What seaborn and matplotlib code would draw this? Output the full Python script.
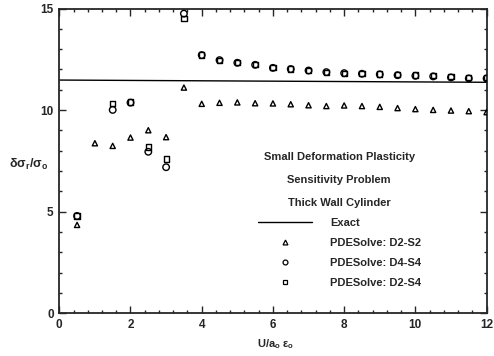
import numpy as np
import pandas as pd
import matplotlib
matplotlib.use("Agg")
import matplotlib.pyplot as plt
import seaborn as sns
from matplotlib.lines import Line2D

# ---- data ----
x_vals = [0.5, 1.0, 1.5, 2.0, 2.5, 3.0, 3.5, 4.0, 4.5, 5.0, 5.5, 6.0, 6.5, 7.0, 7.5,
          8.0, 8.5, 9.0, 9.5, 10.0, 10.5, 11.0, 11.5, 12.0]
d2s2 = [4.35, 8.37, 8.24, 8.65, 9.01, 8.67, 11.11, 10.31, 10.36, 10.38, 10.34, 10.33,
        10.29, 10.24, 10.20, 10.23, 10.20, 10.16, 10.10, 10.05, 10.01, 9.98, 9.95, 9.90]
d4s4 = [4.79, np.nan, 10.01, 10.37, 7.95, 7.19, 14.75, 12.71, 12.46, 12.33, 12.23, 12.08,
        12.02, 11.95, 11.87, 11.82, 11.79, 11.76, 11.72, 11.69, 11.66, 11.61, 11.56, 11.56]
d2s4 = [4.79, np.nan, 10.34, 10.40, 8.18, 7.59, 14.50, 12.71, 12.46, 12.33, 12.23, 12.08,
        12.02, 11.95, 11.87, 11.82, 11.80, 11.78, 11.76, 11.73, 11.70, 11.66, 11.62, 11.62]
exact_x = [0.0, 12.0]
exact_y = [11.48, 11.37]

x_label = r"U/a$_\mathbf{o}$ $\mathbf{\varepsilon}_\mathbf{o}$"
y_label = r"$\mathbf{\delta\sigma_r/\sigma_o}$"
legend_title = "Small Deformation Plasticity\nSensitivity Problem\nThick Wall Cylinder"
series_names = ["PDESolve: D2-S2", "PDESolve: D4-S4", "PDESolve: D2-S4"]

sns.set_style("ticks")
plt.rcParams['font.family'] = ['Liberation Sans', 'DejaVu Sans']
plt.rcParams['mathtext.fontset'] = 'custom'
plt.rcParams['mathtext.rm'] = 'Liberation Sans'
plt.rcParams['mathtext.it'] = 'Liberation Sans:italic'
plt.rcParams['mathtext.bf'] = 'Liberation Sans:bold'

fig = plt.figure(figsize=(4.94, 3.56), dpi=100)
ax = fig.add_axes([0.120, 0.120, 0.865, 0.856])

exact_df = pd.DataFrame({"x": exact_x, "y": exact_y})
sns.lineplot(data=exact_df, x="x", y="y", ax=ax, color="black", lw=1.0)

markers = ["^", "o", "s"]
for vals, m, s in zip([d2s2, d2s4, d4s4], ["^", "s", "o"], [14, 14, 22]):
    df = pd.DataFrame({"x": x_vals, "y": vals}).dropna()
    sns.scatterplot(data=df, x="x", y="y", ax=ax, marker=m, s=s,
                    facecolor="none", edgecolor="black", linewidth=1.0, zorder=3)

ax.set_xlim(0, 12)
ax.set_ylim(0, 15)
ax.set_xticks([0, 2, 4, 6, 8, 10, 12])
ax.set_yticks([0, 5, 10, 15])
ax.set_xticks(np.arange(0, 12.01, 0.4), minor=True)
ax.set_yticks(np.arange(0, 15.01, 1), minor=True)
ax.tick_params(which="both", direction="in", top=True, right=True, width=1.0)
ax.tick_params(which="major", length=5, labelsize=8.5, pad=4)
ax.tick_params(which="minor", length=2.5)
for lab in ax.get_xticklabels() + ax.get_yticklabels():
    lab.set_fontweight("bold")
for sp in ax.spines.values():
    sp.set_linewidth(1.3)

ax.set_xlabel(x_label, fontsize=8, fontweight="bold")
ax.xaxis.set_label_coords(0.507, -0.078)
ax.set_ylabel(y_label, fontsize=9, rotation=0, fontweight="bold")
ax.yaxis.set_label_coords(-0.073, 0.465)

handles = [Line2D([], [], color="black", lw=1.0)]
for m in markers:
    handles.append(Line2D([], [], marker=m, ls="none", markerfacecolor="none",
                          markeredgecolor="black", markersize=3.5, markeredgewidth=0.9))
leg = ax.legend(handles, ["Exact"] + series_names, title=legend_title,
                loc="upper left", bbox_to_anchor=(0.446, 0.555), frameon=False,
                fontsize=8, title_fontproperties={"size": 8, "weight": "bold"},
                handlelength=4.9, handletextpad=1.6, labelspacing=0.9,
                borderpad=0.2)
leg.get_title().set_linespacing(2.65)
leg.get_title().set_multialignment("center")
for t in leg.get_texts():
    t.set_fontweight("bold")

fig.savefig("out.png", dpi=100)
